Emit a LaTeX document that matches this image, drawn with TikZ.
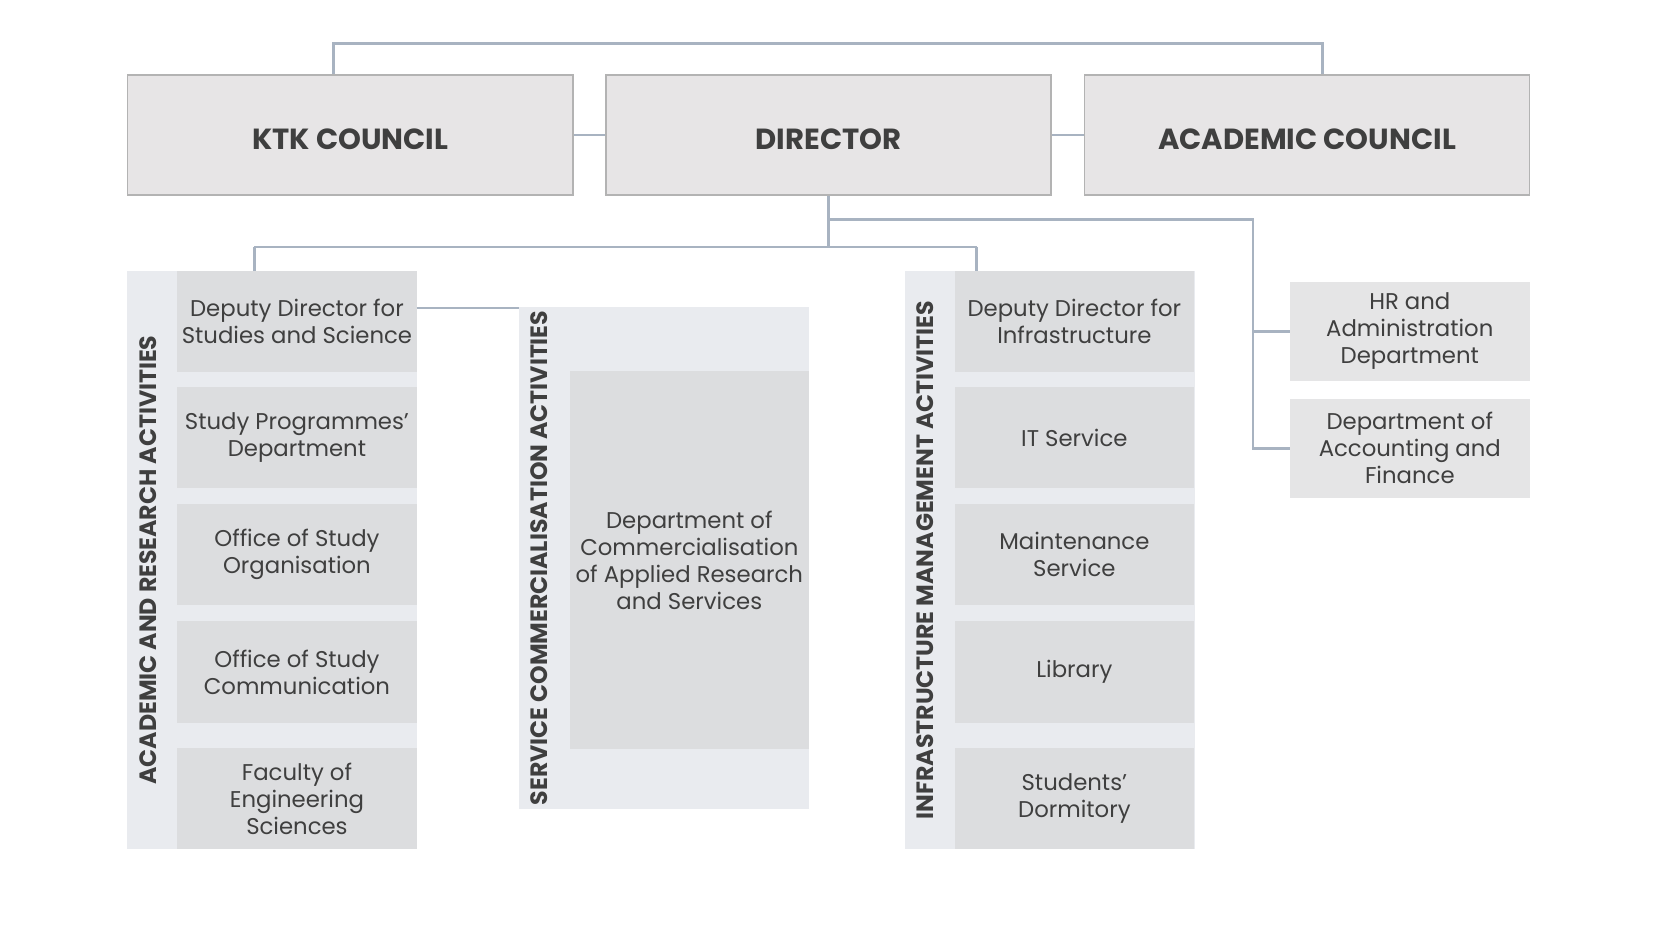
\documentclass[tikz,border=0pt]{standalone}
\usepackage{fontspec}
\setmainfont{Poppins}
\definecolor{linie}{HTML}{A8B3C1}
\definecolor{rahmen}{HTML}{B3B3B3}
\definecolor{kopffeld}{HTML}{E7E5E6}
\definecolor{panelfeld}{HTML}{E9EBEF}
\definecolor{einheitfeld}{HTML}{DCDDDF}
\definecolor{stabfeld}{HTML}{E5E5E6}
\definecolor{schrift}{HTML}{3F3F3F}
\begin{document}
\begin{tikzpicture}[x=0.5pt,y=-0.5pt,
		kopf/.style={draw=rahmen,line width=0.75pt,fill=kopffeld,minimum width=211pt,minimum height=57pt,text=schrift,text height=13.5pt,text depth=0pt,font=\fontsize{13.8}{16}\selectfont\bfseries},
		panel/.style={fill=panelfeld,inner sep=0pt,minimum width=137.5pt},
		einheit/.style={fill=einheitfeld,minimum width=113.5pt,minimum height=48pt,align=center,text=schrift,inner sep=2pt,font=\fontsize{10.8}{12.8}\selectfont},
		stab/.style={einheit,fill=stabfeld,minimum height=47pt},
		titel/.style={rotate=90,text=schrift,font=\fontsize{11.2}{13}\selectfont\bfseries},
		linie/.style={draw=linie,line width=1.25pt}]
		\useasboundingbox (0,0) rectangle (1568,876);
		\fill[white] (0,0) rectangle (1568,876);
		
		\node[kopf] at (332,128) (ktk) {KTK COUNCIL};
		\node[kopf] at (785.5,128) (dir) {DIRECTOR};
		\node[kopf] at (1239,128) (acad) {ACADEMIC COUNCIL};
		
		\node[panel,minimum height=274pt] at (257.5,531) (studies) {};
		\node[panel,minimum height=238pt] at (629.5,529) (service) {};
		\node[panel,minimum height=274pt] at (995.5,531) (infra) {};
		
		\node[titel] at (140,531) (tstudies) {ACADEMIC AND RESEARCH ACTIVITIES};
		\node[titel] at (511,529) (tservice) {SERVICE COMMERCIALISATION ACTIVITIES};
		\node[titel] at (877,531) (tinfra) {INFRASTRUCTURE MANAGEMENT ACTIVITIES};
		
		\node[einheit] at (281.5,305) (stud1) {Deputy Director for\\Studies and Science};
		\node[einheit] at (281.5,415) (stud2) {Study Programmes'\\Department};
		\node[einheit] at (281.5,526) (stud3) {Office of Study\\Organisation};
		\node[einheit] at (281.5,637) (stud4) {Office of Study\\Communication};
		\node[einheit] at (281.5,757) (stud5) {Faculty of\\Engineering\\Sciences};
		
		\node[einheit,minimum height=179pt] at (653.5,531) (comm) {Department of\\Commercialisation\\of Applied Research\\and Services};
		
		\node[einheit] at (1018.5,305) (infra1) {Deputy Director for\\Infrastructure};
		\node[einheit] at (1018.5,415) (infra2) {IT Service};
		\node[einheit] at (1018.5,526) (infra3) {Maintenance\\Service};
		\node[einheit] at (1018.5,637) (infra4) {Library};
		\node[einheit] at (1018.5,757) (infra5) {Students'\\Dormitory};
		
		\node[stab] at (1336.5,314) (hr) {HR and\\Administration\\Department};
		\node[stab] at (1336.5,425) (fin) {Department of\\Accounting and\\Finance};
		
		\coordinate (o1) at (316,41);
		\coordinate (o2) at (1254,41);
		\coordinate (k1) at (785.5,208);
		\coordinate (k2) at (785.5,234);
		\coordinate (r1) at (1188,208);
		\coordinate (a1) at (241,234);
		\coordinate (a2) at (926,234);
		\coordinate (s1) at (395,292);
		
		\draw[linie] (ktk) -- (dir);
		\draw[linie] (dir) -- (acad);
		\draw[linie] (ktk.north -| o1) -- (o1) -- (o2) -- (acad.north -| o2);
		\draw[linie] (dir.south) -- (k2);
		\draw[linie] (k1) -- (r1) |- (fin.west);
		\draw[linie] (r1 |- hr.west) -- (hr.west);
		\draw[linie] (a1) -- (a2);
		\draw[linie] (a1) -- (a1 |- studies.north);
		\draw[linie] (a2) -- (a2 |- infra.north);
		\draw[linie] (s1) -- (s1 -| service.west);
\end{tikzpicture}
\end{document}
